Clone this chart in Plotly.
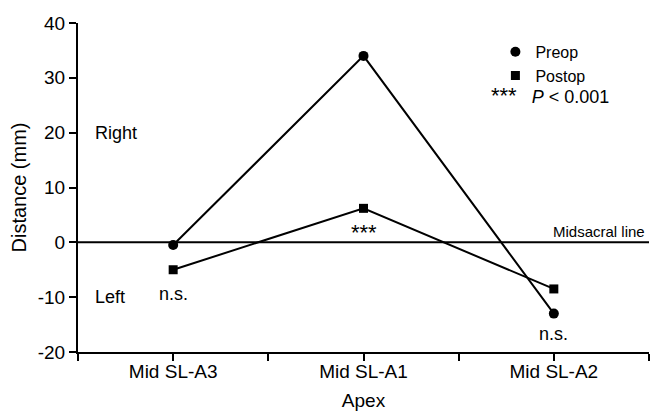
import plotly.graph_objects as go

categories = ["Mid SL-A3", "Mid SL-A1", "Mid SL-A2"]
preop = [-0.5, 34, -13]
postop = [-5, 6.2, -8.5]
y_ticks = [-20, -10, 0, 10, 20, 30, 40]
y_ticktext = ["-20", "-10", "0", "10", "20", "30", "40"]

xpos = list(range(len(categories)))
FONT = "Liberation Sans"

fig = go.Figure()
fig.add_trace(go.Scatter(x=xpos, y=preop, mode="lines+markers",
                         line=dict(color="black", width=2),
                         marker=dict(symbol="circle", size=10, color="black"),
                         showlegend=False))
fig.add_trace(go.Scatter(x=xpos, y=postop, mode="lines+markers",
                         line=dict(color="black", width=2),
                         marker=dict(symbol="square", size=9, color="black"),
                         showlegend=False))
# legend-only entries (markers only)
fig.add_trace(go.Scatter(x=[None], y=[None], mode="markers", name="Preop",
                         marker=dict(symbol="circle", size=10, color="black")))
fig.add_trace(go.Scatter(x=[None], y=[None], mode="markers", name="Postop",
                         marker=dict(symbol="square", size=9, color="black")))

# midsacral line
fig.add_shape(type="line", xref="paper", yref="y", x0=0, x1=1, y0=0, y1=0,
              line=dict(color="black", width=2))

tickvals = [-0.5, 0, 0.5, 1, 1.5, 2, 2.5]
ticktext = ["", categories[0], "", categories[1], "", categories[2], ""]

fig.update_layout(
    width=651, height=411,
    margin=dict(l=78, r=2, t=23, b=59),
    paper_bgcolor="white", plot_bgcolor="white",
    font=dict(family=FONT, size=18, color="black"),
    xaxis=dict(range=[-0.5, 2.5], tickvals=tickvals, ticktext=ticktext,
               showgrid=False, zeroline=False, showline=True, linecolor="black",
               linewidth=2, ticks="outside", ticklen=7, tickwidth=1.5,
               tickcolor="black", tickfont=dict(size=19), ticklabelstandoff=-6,
               title=dict(text="Apex", font=dict(size=19), standoff=14)),
    yaxis=dict(range=[-20, 40], tickvals=y_ticks, ticktext=y_ticktext,
               showgrid=False, zeroline=False,
               showline=True, linecolor="black", linewidth=2, ticks="outside",
               ticklen=7, tickwidth=1.5, tickcolor="black",
               tickfont=dict(size=19),
               title=dict(text="Distance (mm)", font=dict(size=20), standoff=6)),
    legend=dict(x=0.731, y=0.964, xanchor="left", yanchor="top",
                bgcolor="rgba(0,0,0,0)", font=dict(size=16),
                tracegroupgap=0, itemwidth=30),
)

ann = dict(showarrow=False, font=dict(family=FONT, size=18, color="black"))
fig.add_annotation(x=0.026, xref="paper", y=20, yref="y", text="Right",
                   xanchor="left", yanchor="middle", **ann)
fig.add_annotation(x=0.026, xref="paper", y=-10, yref="y", text="Left",
                   xanchor="left", yanchor="middle", **ann)
fig.add_annotation(x=0, y=-9.5, text="n.s.", xanchor="center", yanchor="middle", **ann)
fig.add_annotation(x=2, y=-16.8, text="n.s.", xanchor="center", yanchor="middle", **ann)
fig.add_annotation(x=1, y=1.8, text="***", xanchor="center", yanchor="middle",
                   showarrow=False, font=dict(family=FONT, size=22, color="black"))
fig.add_annotation(x=0.997, xref="paper", y=2.0, yref="y", text="Midsacral line",
                   xanchor="right", yanchor="middle",
                   showarrow=False, font=dict(family=FONT, size=15, color="black"))
fig.add_annotation(x=0.72, xref="paper", y=0.78, yref="paper",
                   text="<span style='font-size:22px'>***</span>&nbsp;&nbsp;&nbsp;<i>P</i> < 0.001",
                   xanchor="left", yanchor="middle", **ann)

fig.write_html("out.html")
